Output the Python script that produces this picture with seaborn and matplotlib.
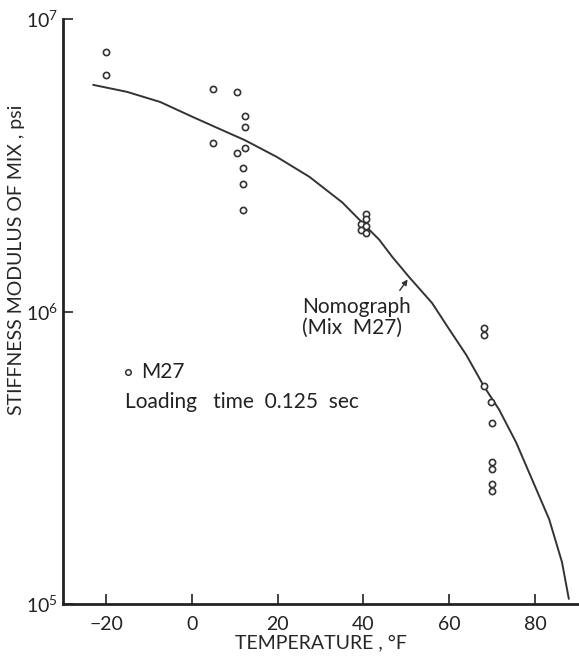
import numpy as np
import pandas as pd
import seaborn as sns
import matplotlib
matplotlib.use("Agg")
import matplotlib.pyplot as plt
from matplotlib.ticker import LogLocator, NullLocator

# measured points, mix M27 (temperature F, stiffness psi)
temp_pts = [-20, -20, 5, 10.5, 5, 12.5, 12.5, 12.5, 10.5, 12, 12, 12,
            40.5, 40.5, 39.5, 40.5, 39.5, 40.5,
            68.1, 68.1, 68.1, 69.8, 70, 70, 70, 70, 70]
stiff_pts = [7.7e6, 6.45e6, 5.75e6, 5.65e6, 3.78e6, 4.65e6, 4.28e6, 3.63e6, 3.49e6, 3.1e6, 2.74e6, 2.23e6,
             2.15e6, 2.07e6, 2.0e6, 1.96e6, 1.9e6, 1.86e6,
             8.77e5, 8.33e5, 5.55e5, 4.89e5, 4.15e5, 3.06e5, 2.9e5, 2.57e5, 2.44e5]

# nomograph curve (Mix M27)
temp_curve = [-23, -15.1, -7.4, 0.2, 8.1, 12.3, 19.8, 27.4, 35.1, 39.8, 43.7, 46.7,
              50.7, 56.0, 60, 64.0, 68.1, 71.6, 75.6, 79.3, 83.3, 86.3, 87.9]
stiff_curve = [5.96e6, 5.64e6, 5.21e6, 4.63e6, 4.11e6, 3.86e6, 3.38e6, 2.89e6, 2.36e6, 2.01e6,
               1.76e6, 1.54e6, 1.31e6, 1.07e6, 8.7e5, 7.1e5, 5.55e5, 4.63e5, 3.57e5, 2.67e5,
               1.95e5, 1.39e5, 1.04e5]

x_ticks = [-20, 0, 20, 40, 60, 80]

sns.set_style("ticks")
plt.rcParams["font.family"] = ["Lato", "DejaVu Sans"]

fig = plt.figure(figsize=(5.79, 6.6), dpi=100)
ax = fig.add_axes([0.109, 0.085, 0.889, 0.886])

pts = pd.DataFrame({"temp": temp_pts, "stiff": stiff_pts})
curve = pd.DataFrame({"temp": temp_curve, "stiff": stiff_curve})

sns.lineplot(data=curve, x="temp", y="stiff", color="#333333", linewidth=1.4, sort=False, ax=ax)
sns.scatterplot(data=pts, x="temp", y="stiff", marker="o", s=20, facecolor="white",
                edgecolor="#333333", linewidth=1.2, ax=ax, zorder=3)

ax.set_yscale("log")
ax.set_xlim(-30, 90)
ax.set_ylim(1e5, 1e7)
ax.set_xticks(x_ticks)
ax.yaxis.set_major_locator(LogLocator(base=10, numticks=5))
ax.yaxis.set_minor_locator(NullLocator())
ax.tick_params(direction="in", length=7, width=1.2, labelsize=14, colors="#222222")
ax.tick_params(axis="x", pad=9)
for side in ["top", "right"]:
    ax.spines[side].set_visible(False)
for side in ["left", "bottom"]:
    ax.spines[side].set_linewidth(2)
    ax.spines[side].set_color("#222222")

ax.set_xlabel("TEMPERATURE , °F", fontsize=14, labelpad=1)
ax.set_ylabel("STIFFNESS MODULUS OF MIX , psi", fontsize=14)
ax.yaxis.set_label_coords(-0.074, 0.588)

# annotations
ax.annotate("", xy=(50.7, 1.31e6), xytext=(48.1, 1.16e6),
            arrowprops=dict(arrowstyle="-|>", color="#333333", lw=1, mutation_scale=8))
ax.text(25.8, 1.04e6, "Nomograph", fontsize=15, ha="left", va="center", color="#222222")
ax.text(25.8, 8.8e5, "(Mix  M27)", fontsize=15, ha="left", va="center", color="#222222")

ax.scatter([-14.9], [6.2e5], marker="o", s=16, facecolor="white", edgecolor="#333333", linewidth=1.1)
ax.text(-11.9, 6.2e5, "M27", fontsize=15, ha="left", va="center", color="#222222")
ax.text(-15.6, 4.89e5, "Loading   time  0.125  sec", fontsize=15, ha="left", va="center", color="#222222")

fig.savefig("out.png", dpi=100, facecolor="white")
